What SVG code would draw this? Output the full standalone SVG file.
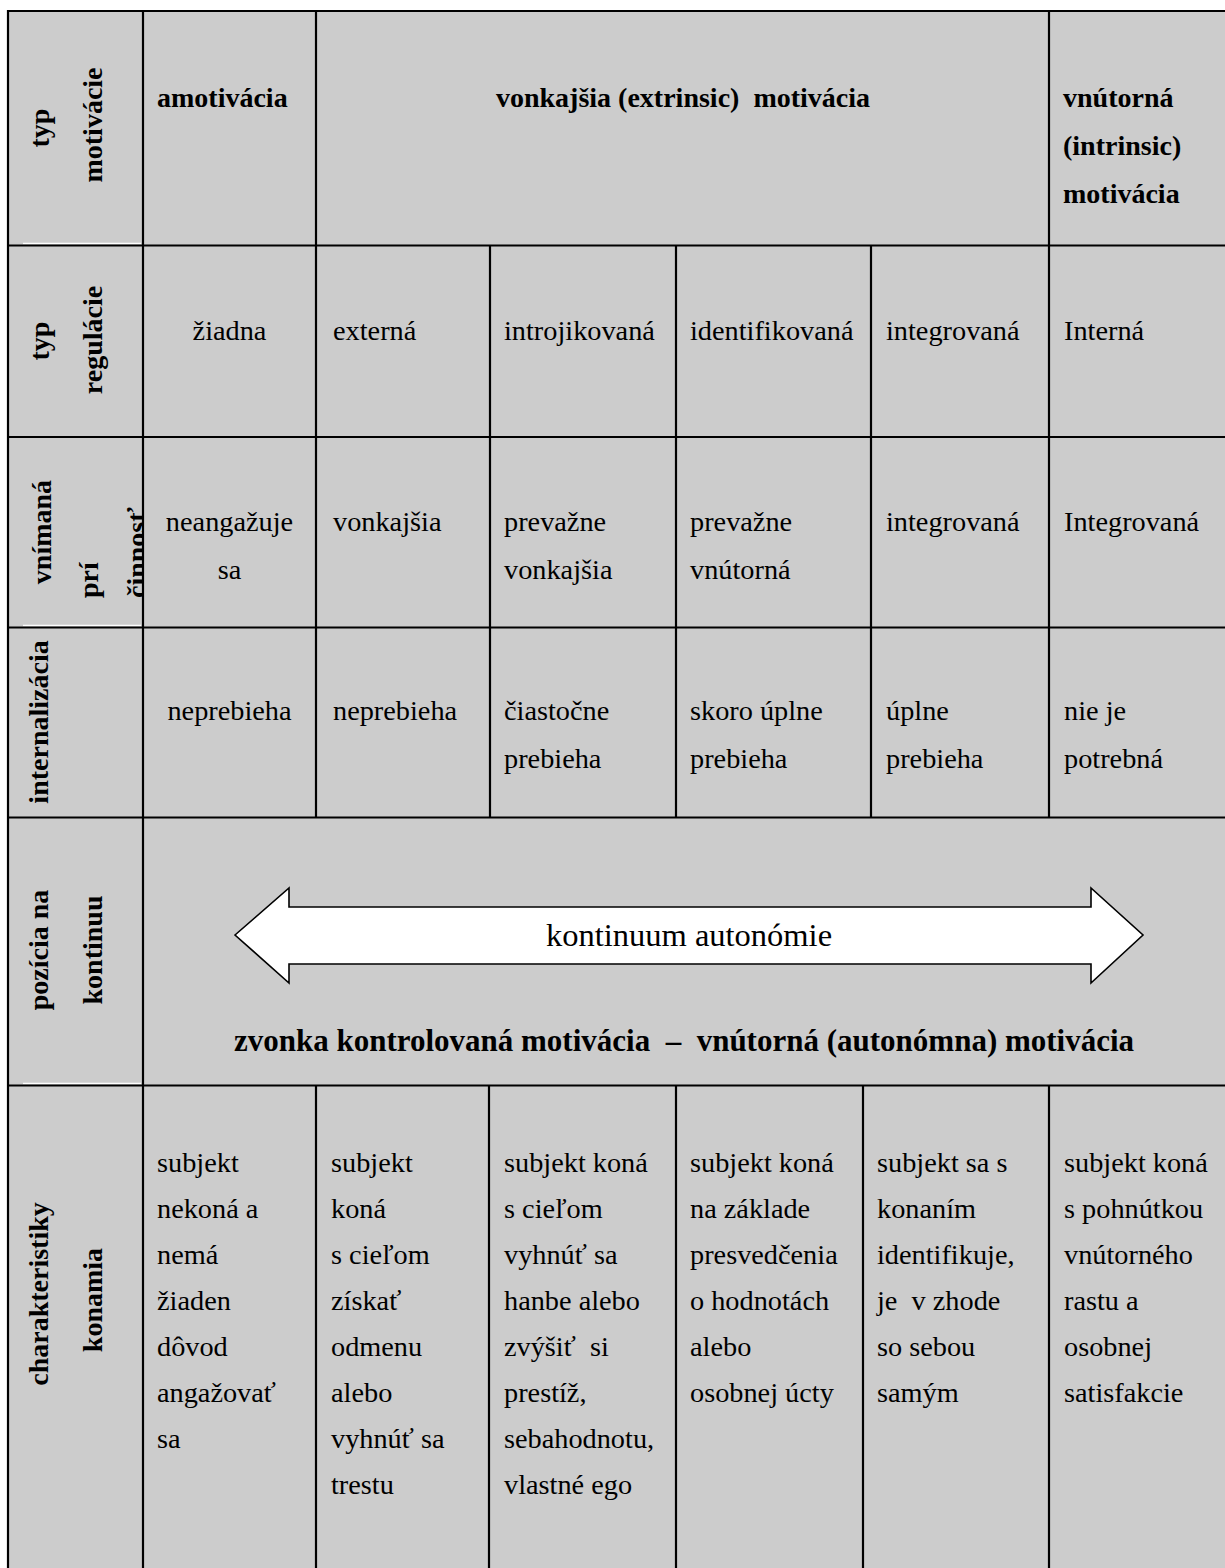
<svg xmlns="http://www.w3.org/2000/svg" width="1225" height="1568" viewBox="0 0 1225 1568">
  <style>
    .bg { fill: #ffffff; }
    .cell { fill: #cccccc; }
    .grid line { stroke: #000000; stroke-width: 2.2; }
    .hl { stroke: #ffffff; stroke-width: 1.5; }
    text { font-family: "Liberation Serif", "Times New Roman", serif; fill: #000000; }
    .b { font-weight: bold; font-size: 28px; }
    .r { font-size: 28.3px; }
    .mid { text-anchor: middle; }
    .big { font-size: 32.5px; }
    .bb { font-weight: bold; font-size: 31px; }
  </style>
  <defs>
    <clipPath id="labelClip">
      <rect x="8" y="437" width="134" height="190"/>
    </clipPath>
  </defs>

  <!-- page and table background -->
  <rect class="bg" x="0" y="0" width="1225" height="1568"/>
  <rect class="cell" x="8" y="11" width="1217" height="1557"/>

  <!-- light rulings under some header cells -->
  <g id="highlights">
    <line class="hl" x1="23" y1="243.5" x2="141" y2="243.5"/>
    <line class="hl" x1="23" y1="625.5" x2="141" y2="625.5"/>
    <line class="hl" x1="23" y1="1083.5" x2="141" y2="1083.5"/>
  </g>

  <!-- table rulings -->
  <g id="grid" class="grid">
    <line x1="7" y1="11" x2="1225" y2="11"/>
    <line x1="7" y1="245.5" x2="1225" y2="245.5"/>
    <line x1="7" y1="437" x2="1225" y2="437"/>
    <line x1="7" y1="627.5" x2="1225" y2="627.5"/>
    <line x1="7" y1="817.5" x2="1225" y2="817.5"/>
    <line x1="7" y1="1085.5" x2="1225" y2="1085.5"/>
    <line x1="8" y1="10" x2="8" y2="1568"/>
    <line x1="143" y1="10" x2="143" y2="1568"/>
    <!-- header row -->
    <line x1="316" y1="10" x2="316" y2="245.5"/>
    <line x1="1049" y1="10" x2="1049" y2="245.5"/>
    <!-- rows 2-4 -->
    <line x1="316" y1="245.5" x2="316" y2="817.5"/>
    <line x1="490" y1="245.5" x2="490" y2="817.5"/>
    <line x1="676" y1="245.5" x2="676" y2="817.5"/>
    <line x1="871" y1="245.5" x2="871" y2="817.5"/>
    <line x1="1049" y1="245.5" x2="1049" y2="817.5"/>
    <!-- last row -->
    <line x1="316" y1="1085.5" x2="316" y2="1568"/>
    <line x1="489" y1="1085.5" x2="489" y2="1568"/>
    <line x1="676" y1="1085.5" x2="676" y2="1568"/>
    <line x1="863" y1="1085.5" x2="863" y2="1568"/>
    <line x1="1049" y1="1085.5" x2="1049" y2="1568"/>
  </g>

  <!-- row labels (rotated) -->
  <g id="label-typ-motivacie">
    <text class="b mid" transform="translate(49,128) rotate(-90)">typ</text>
    <text class="b mid" transform="translate(102,125) rotate(-90)">motivácie</text>
  </g>
  <g id="label-typ-regulacie">
    <text class="b mid" transform="translate(49,341) rotate(-90)">typ</text>
    <text class="b mid" transform="translate(102,340) rotate(-90)">regulácie</text>
  </g>
  <g id="label-vnimana">
    <text class="b mid" transform="translate(51,532) rotate(-90)">vnímaná</text>
    <text class="b" transform="translate(98,598) rotate(-90)">prí</text>
    <!-- overflowing third line, cut by the cell edge -->
    <g clip-path="url(#labelClip)">
      <text class="b" transform="translate(146,598) rotate(-90)">činnosť</text>
    </g>
  </g>
  <g id="label-internalizacia">
    <text class="b mid" transform="translate(48,722) rotate(-90)">internalizácia</text>
  </g>
  <g id="label-pozicia">
    <text class="b mid" transform="translate(48,950) rotate(-90)">pozícia na</text>
    <text class="b mid" transform="translate(102,950) rotate(-90)">kontinuu</text>
  </g>
  <g id="label-charakteristiky">
    <text class="b mid" transform="translate(48,1294) rotate(-90)">charakteristiky</text>
    <text class="b mid" transform="translate(102,1300) rotate(-90)">konamia</text>
  </g>

  <!-- header row -->
  <g id="h-amotivacia">
    <text class="b" x="157" y="107">amotivácia</text>
  </g>
  <g id="h-vonkajsia">
    <text class="b mid" x="683" y="107" xml:space="preserve">vonkajšia (extrinsic)  motivácia</text>
  </g>
  <g id="h-vnutorna">
    <text class="b" x="1063" y="107">vnútorná</text>
    <text class="b" x="1063" y="155">(intrinsic)</text>
    <text class="b" x="1063" y="203">motivácia</text>
  </g>

  <!-- typ regulácie -->
  <g id="reg-1"><text class="r mid" x="229.5" y="340">žiadna</text></g>
  <g id="reg-2"><text class="r" x="333" y="340">externá</text></g>
  <g id="reg-3"><text class="r" x="504" y="340">introjikovaná</text></g>
  <g id="reg-4"><text class="r" x="690" y="340">identifikovaná</text></g>
  <g id="reg-5"><text class="r" x="886" y="340">integrovaná</text></g>
  <g id="reg-6"><text class="r" x="1064" y="340">Interná</text></g>

  <!-- vnímaná príčinnosť -->
  <g id="pri-1">
    <text class="r mid" x="229.5" y="531">neangažuje</text>
    <text class="r mid" x="229.5" y="579">sa</text>
  </g>
  <g id="pri-2"><text class="r" x="333" y="531">vonkajšia</text></g>
  <g id="pri-3">
    <text class="r" x="504" y="531">prevažne</text>
    <text class="r" x="504" y="579">vonkajšia</text>
  </g>
  <g id="pri-4">
    <text class="r" x="690" y="531">prevažne</text>
    <text class="r" x="690" y="579">vnútorná</text>
  </g>
  <g id="pri-5"><text class="r" x="886" y="531">integrovaná</text></g>
  <g id="pri-6"><text class="r" x="1064" y="531">Integrovaná</text></g>

  <!-- internalizácia -->
  <g id="int-1"><text class="r mid" x="229.5" y="720">neprebieha</text></g>
  <g id="int-2"><text class="r" x="333" y="720">neprebieha</text></g>
  <g id="int-3">
    <text class="r" x="504" y="720">čiastočne</text>
    <text class="r" x="504" y="768">prebieha</text>
  </g>
  <g id="int-4">
    <text class="r" x="690" y="720">skoro úplne</text>
    <text class="r" x="690" y="768">prebieha</text>
  </g>
  <g id="int-5">
    <text class="r" x="886" y="720">úplne</text>
    <text class="r" x="886" y="768">prebieha</text>
  </g>
  <g id="int-6">
    <text class="r" x="1064" y="720">nie je</text>
    <text class="r" x="1064" y="768">potrebná</text>
  </g>

  <!-- continuum row: double-headed block arrow -->
  <g id="continuum">
    <polygon points="235,935 289,888 289,907 1091,907 1091,888 1143,935 1091,983 1091,964 289,964 289,983" fill="#ffffff" stroke="#000000" stroke-width="1.6" stroke-linejoin="miter"/>
    <text class="big mid" x="689" y="946">kontinuum autonómie</text>
    <text class="bb mid" x="684" y="1051" xml:space="preserve">zvonka kontrolovaná motivácia  –  vnútorná (autonómna) motivácia</text>
  </g>

  <!-- charakteristiky konania -->
  <g id="char-1">
    <text class="r" x="157" y="1172">subjekt</text>
    <text class="r" x="157" y="1218">nekoná a</text>
    <text class="r" x="157" y="1264">nemá</text>
    <text class="r" x="157" y="1310">žiaden</text>
    <text class="r" x="157" y="1356">dôvod</text>
    <text class="r" x="157" y="1402">angažovať</text>
    <text class="r" x="157" y="1448">sa</text>
  </g>
  <g id="char-2">
    <text class="r" x="331" y="1172">subjekt</text>
    <text class="r" x="331" y="1218">koná</text>
    <text class="r" x="331" y="1264">s cieľom</text>
    <text class="r" x="331" y="1310">získať</text>
    <text class="r" x="331" y="1356">odmenu</text>
    <text class="r" x="331" y="1402">alebo</text>
    <text class="r" x="331" y="1448">vyhnúť sa</text>
    <text class="r" x="331" y="1494">trestu</text>
  </g>
  <g id="char-3">
    <text class="r" x="504" y="1172">subjekt koná</text>
    <text class="r" x="504" y="1218">s cieľom</text>
    <text class="r" x="504" y="1264">vyhnúť sa</text>
    <text class="r" x="504" y="1310">hanbe alebo</text>
    <text class="r" x="504" y="1356" xml:space="preserve">zvýšiť  si</text>
    <text class="r" x="504" y="1402">prestíž,</text>
    <text class="r" x="504" y="1448">sebahodnotu,</text>
    <text class="r" x="504" y="1494">vlastné ego</text>
  </g>
  <g id="char-4">
    <text class="r" x="690" y="1172">subjekt koná</text>
    <text class="r" x="690" y="1218">na základe</text>
    <text class="r" x="690" y="1264">presvedčenia</text>
    <text class="r" x="690" y="1310">o hodnotách</text>
    <text class="r" x="690" y="1356">alebo</text>
    <text class="r" x="690" y="1402">osobnej úcty</text>
  </g>
  <g id="char-5">
    <text class="r" x="877" y="1172">subjekt sa s</text>
    <text class="r" x="877" y="1218">konaním</text>
    <text class="r" x="877" y="1264">identifikuje,</text>
    <text class="r" x="877" y="1310" xml:space="preserve">je  v zhode</text>
    <text class="r" x="877" y="1356">so sebou</text>
    <text class="r" x="877" y="1402">samým</text>
  </g>
  <g id="char-6">
    <text class="r" x="1064" y="1172">subjekt koná</text>
    <text class="r" x="1064" y="1218">s pohnútkou</text>
    <text class="r" x="1064" y="1264">vnútorného</text>
    <text class="r" x="1064" y="1310">rastu a</text>
    <text class="r" x="1064" y="1356">osobnej</text>
    <text class="r" x="1064" y="1402">satisfakcie</text>
  </g>
</svg>
